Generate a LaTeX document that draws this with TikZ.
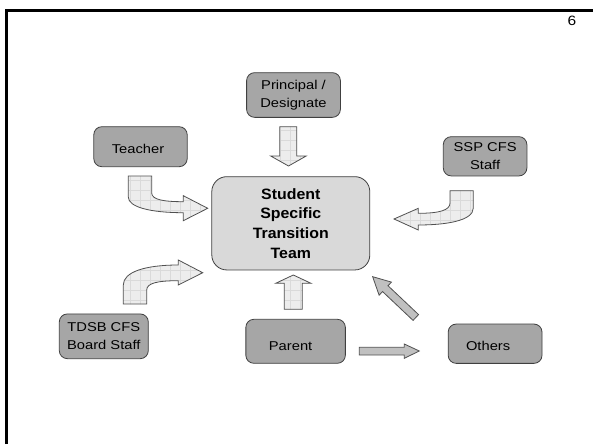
\documentclass[tikz,border=0pt]{standalone}
\usepackage{fontspec}
\setmainfont{Liberation Sans}
\newfontfamily\regf[FakeStretch=1.15]{Liberation Sans}
\newfontfamily\boldf[FakeStretch=1.06]{Liberation Sans}
\definecolor{boxfill}{HTML}{A6A6A6}
\definecolor{teamfill}{HTML}{D9D9D9}
\definecolor{boxline}{HTML}{404040}
\definecolor{arrowfill}{HTML}{EDEDED}
\definecolor{gridcol}{HTML}{DADADA}
\definecolor{darkfill}{HTML}{C0C0C0}
\definecolor{arrowedge}{HTML}{505050}
\tikzset{
  box/.style={draw=boxline, fill=boxfill, rounded corners=8pt, line width=0.8pt,
    inner sep=0pt, align=center, font=\regf\fontsize{12.8}{18.3}\selectfont},
  teambox/.style={box, fill=teamfill, rounded corners=15pt,
    font=\boldf\bfseries\fontsize{15}{19.7}\selectfont},
  gridline/.style={draw=gridcol, line width=0.4pt},
  arrowline/.style={draw=arrowedge, line width=0.8pt, line join=miter},
  darkarrow/.style={draw=arrowedge, fill=darkfill, line width=0.8pt, line join=miter}
}
\newcommand\gridarrow[1]{%
  \fill[arrowfill] #1;
  \begin{scope}
    \clip #1;
    \foreach \gx in {0,10,...,590} {\draw[gridline] (\gx,0) -- (\gx,444);}
    \foreach \gy in {0,10,...,440} {\draw[gridline] (0,\gy) -- (593,\gy);}
  \end{scope}
  \draw[arrowline] #1;
}
\newcommand\shiftedtext[3]{\raisebox{#2}[\height][\depth]{\hspace*{#1}#3\hspace*{-#1}}}
\begin{document}
\begin{tikzpicture}[x=1pt,y=-1pt]
\useasboundingbox (0,0) rectangle (593,444);
\fill[white] (0,0) rectangle (593,444);
\draw[line width=3pt] (6.5,444) -- (6.5,10.5) -- (593,10.5);
\node[font=\regf\fontsize{13.5}{16}\selectfont] (pg) at (572,21) {6};

\node[box, minimum width=93.8pt, minimum height=44.7pt] (prin) at (293.5,95) {Principal /\\Designate};
\node[box, minimum width=93.4pt, minimum height=40pt] (teach) at (140.5,146.7) {\shiftedtext{-2.5pt}{-2pt}{Teacher}};
\node[box, minimum width=83.6pt, minimum height=39.3pt] (ssp) at (485.1,156.3) {SSP CFS\\Staff};
\node[teambox, minimum width=158pt, minimum height=93.3pt] (team) at (290.8,223.3) {Student\\Specific\\Transition\\Team};
\node[box, minimum width=89pt, minimum height=44.7pt] (tdsb) at (103.8,336.3) {TDSB CFS\\Board Staff};
\node[box, minimum width=99.5pt, minimum height=44pt] (par) at (295.6,341.3) {\shiftedtext{-5pt}{-4.5pt}{Parent}};
\node[box, minimum width=93.8pt, minimum height=39.3pt] (oth) at (495.1,343.7) {\shiftedtext{-7pt}{-2.5pt}{Others}};

% Principal -> team
\gridarrow{(279.8,126.7) -- (296.8,126.7) -- (296.8,156) -- (306.2,156) -- (288.5,166) -- (270.7,156) -- (279.8,156) -- cycle}
% Teacher -> team
\gridarrow{(128.3,176) -- (151.7,176) -- (151.7,193) .. controls (151.7,200) and (165,201.7) .. (183.3,201.7) -- (183.3,195.7) -- (207.7,208.3) -- (183.3,220.7) -- (183.3,212.7) .. controls (150,212.7) and (128.3,207) .. (128.3,197) -- cycle}
% SSP -> team
\gridarrow{(450,190.7) -- (473.3,190.7) -- (473.3,208) .. controls (473.3,221) and (445,225) .. (418.3,225) -- (418.3,230) -- (394,219) -- (418.3,208.3) -- (418.3,213.3) .. controls (440,213.3) and (450,210) .. (450,203) -- cycle}
% TDSB -> team
\gridarrow{(123.3,304) -- (146.7,304) -- (146.7,290) .. controls (146.7,283) and (158,280.7) .. (178.3,280.7) -- (178.3,285) -- (202.7,272.7) -- (178.3,260) -- (178.3,265) .. controls (145,265) and (123.3,272) .. (123.3,285) -- cycle}
% Parent -> team
\gridarrow{(284.3,309.3) -- (302.3,309.3) -- (302.3,283.3) -- (311,283.3) -- (293.3,275) -- (275.7,283.3) -- (284.3,283.3) -- cycle}
% Parent -> Others
\draw[darkarrow] (359.3,347.3) -- (404.3,347.3) -- (404.3,344) -- (419.3,351) -- (404.3,358.3) -- (404.3,355) -- (359.3,355) -- cycle;
% Others -> team
\begin{scope}[shift={(415.8,317.5)}, rotate=136.6]
\draw[darkarrow] (0,-4) -- (42,-4) -- (42,-9) -- (59.4,0) -- (42,9) -- (42,4) -- (0,4) -- cycle;
\end{scope}
\end{tikzpicture}
\end{document}
